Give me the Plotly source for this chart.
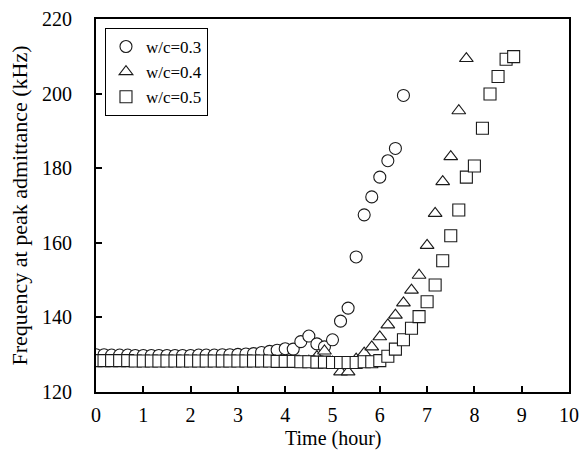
import plotly.graph_objects as go

# ---- data ----
t_wc03 = [0.00, 0.17, 0.33, 0.50, 0.67, 0.83, 1.00, 1.17, 1.33, 1.50,
          1.67, 1.83, 2.00, 2.17, 2.33, 2.50, 2.67, 2.83, 3.00, 3.17,
          3.33, 3.50, 3.67, 3.83, 4.00, 4.17, 4.33, 4.50, 4.67, 4.83,
          5.00, 5.17, 5.33, 5.50, 5.67, 5.83, 6.00, 6.17, 6.33, 6.50]
f_wc03 = [130.0, 130.0, 129.9, 129.9, 129.9, 129.8, 129.8, 129.8, 129.8, 129.8,
          129.8, 129.8, 129.8, 129.9, 129.9, 129.9, 130.0, 130.0, 130.1, 130.2,
          130.3, 130.6, 130.9, 131.2, 131.6, 131.5, 133.5, 135.0, 132.9, 132.1,
          134.0, 139.0, 142.5, 156.2, 167.5, 172.3, 177.6, 182.0, 185.3, 199.5]

t_wc04 = [0.00, 0.17, 0.33, 0.50, 0.67, 0.83, 1.00, 1.17, 1.33, 1.50,
          1.67, 1.83, 2.00, 2.17, 2.33, 2.50, 2.67, 2.83, 3.00, 3.17,
          3.33, 3.50, 3.67, 3.83, 4.00, 4.17, 4.33, 4.50, 4.67, 4.83,
          5.00, 5.17, 5.33, 5.50, 5.67, 5.83, 6.00, 6.17, 6.33, 6.50,
          6.67, 6.83, 7.00, 7.17, 7.33, 7.50, 7.67, 7.83]
f_wc04 = [127.9, 127.9, 127.9, 127.8, 127.8, 127.8, 127.8, 127.8, 127.8, 127.8,
          127.8, 127.8, 127.8, 127.8, 127.8, 127.8, 127.8, 127.8, 127.8, 127.8,
          127.8, 127.8, 127.8, 127.9, 127.9, 128.0, 128.1, 128.3, 129.5, 131.0,
          128.0, 125.4, 125.4, 128.8, 130.4, 132.1, 134.8, 138.0, 140.6, 143.9,
          147.3, 151.3, 159.3, 167.9, 176.4, 183.1, 195.4, 209.4]

t_wc05 = [0.00, 0.17, 0.33, 0.50, 0.67, 0.83, 1.00, 1.17, 1.33, 1.50,
          1.67, 1.83, 2.00, 2.17, 2.33, 2.50, 2.67, 2.83, 3.00, 3.17,
          3.33, 3.50, 3.67, 3.83, 4.00, 4.17, 4.33, 4.50, 4.67, 4.83,
          5.00, 5.17, 5.33, 5.50, 5.67, 5.83, 6.00, 6.17, 6.33, 6.50,
          6.67, 6.83, 7.00, 7.17, 7.33, 7.50, 7.67, 7.83, 8.00, 8.17,
          8.33, 8.50, 8.67, 8.83]
f_wc05 = [128.4, 128.4, 128.4, 128.4, 128.4, 128.3, 128.3, 128.3, 128.3, 128.3,
          128.3, 128.3, 128.3, 128.3, 128.3, 128.3, 128.3, 128.3, 128.3, 128.3,
          128.3, 128.3, 128.3, 128.2, 128.2, 128.2, 128.1, 128.1, 128.0, 128.0,
          127.9, 127.9, 127.9, 127.9, 128.1, 128.1, 128.4, 129.6, 131.5, 134.0,
          137.1, 140.2, 144.2, 148.7, 155.2, 161.9, 168.8, 177.6, 180.6, 190.7,
          199.9, 204.6, 209.2, 209.9]

series_names = ["w/c=0.3", "w/c=0.4", "w/c=0.5"]
x_ticks = [0, 1, 2, 3, 4, 5, 6, 7, 8, 9, 10]
y_ticks = [120, 140, 160, 180, 200, 220]

FONT = "Liberation Serif, Times New Roman, serif"

fig = go.Figure()
specs = [
    (t_wc03, f_wc03, "circle", 12),
    (t_wc04, f_wc04, "triangle-up", 12),
    (t_wc05, f_wc05, "square", 12),
]
for name, (tx, fy, sym, sz) in zip(series_names, specs):
    fig.add_trace(go.Scatter(
        x=tx, y=fy, mode="markers", name=name,
        marker=dict(symbol=sym, size=sz, color="white",
                    line=dict(color="#1a1a1a", width=1.1)),
    ))

axis_common = dict(
    showline=True, linecolor="black", linewidth=2, mirror=True,
    ticks="inside", ticklen=6, tickwidth=1.5, tickcolor="black",
    showgrid=False, zeroline=False, automargin=False,
    tickfont=dict(family=FONT, size=20, color="black"),
)

fig.update_xaxes(
    range=[0, 10], tickmode="array", tickvals=x_ticks,
    ticklabelstandoff=4,
    **axis_common,
)
fig.update_yaxes(
    range=[120, 220], tickmode="array", tickvals=y_ticks,
    ticklabelstandoff=18,
    title=dict(text="Frequency at peak admittance (kHz)",
               font=dict(family=FONT, size=22, color="black"), standoff=8),
    **axis_common,
)

# x-axis title as a paper-anchored annotation so it can sit close to the labels
fig.add_annotation(
    text="Time (hour)", xref="paper", yref="paper", x=0.5, y=0,
    xanchor="center", yanchor="top", yshift=-33, showarrow=False,
    font=dict(family=FONT, size=20, color="black"),
)

fig.update_layout(
    width=579, height=461,
    margin=dict(l=96, r=10, t=19, b=69),
    paper_bgcolor="white", plot_bgcolor="white",
    showlegend=True,
    legend=dict(
        x=0.019, y=0.976, xanchor="left", yanchor="top",
        bgcolor="white", bordercolor="black", borderwidth=1,
        font=dict(family=FONT, size=17, color="black"),
        tracegroupgap=0, itemwidth=30,
    ),
)

fig.write_html("out.html")
